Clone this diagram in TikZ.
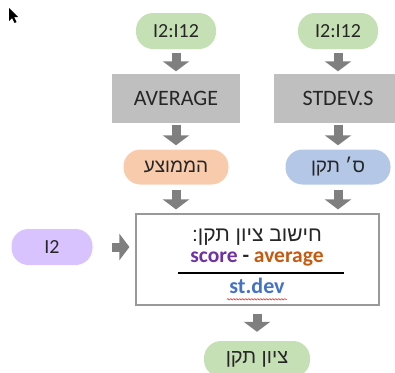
\documentclass[tikz,border=0pt]{standalone}
\usepackage{fontspec}
\setmainfont{Carlito}
\newfontfamily\hebfont[Script=Hebrew]{Liberation Sans}
\TeXXeTstate=1
\usetikzlibrary{arrows.meta,decorations.pathmorphing}
\definecolor{pgreen}{HTML}{C5E0B4}
\definecolor{pgray}{HTML}{BFBFBF}
\definecolor{parrow}{HTML}{7F7F7F}
\definecolor{porange}{HTML}{F8CBAD}
\definecolor{pblue}{HTML}{B4C7E7}
\definecolor{ppurple}{HTML}{D9C3FF}
\definecolor{tpurple}{HTML}{7030A0}
\definecolor{torange}{HTML}{C55A11}
\definecolor{tblue}{HTML}{4472C4}
\definecolor{tdark}{HTML}{262626}
\begin{document}
\begin{tikzpicture}[x=1pt,y=-1pt,
  pill/.style={rectangle,rounded corners=17pt,draw=none,inner sep=0pt,text=tdark,font=\fontsize{20}{22}\selectfont},
  grbox/.style={rectangle,fill=pgray,draw=none,inner sep=0pt,text=tdark,minimum width=128pt,minimum height=49pt,font=\fontsize{22}{24}\selectfont},
  blockarrow/.style={draw=parrow,line width=9pt,-{Triangle[length=10pt,width=26pt]}},
  heb/.style={font=\hebfont\fontsize{19}{22}\selectfont}]
\useasboundingbox (0,0) rectangle (395,372);
\clip (0,0) rectangle (395,372);
% cursor
\fill[black] (9,8) -- (9,21) -- (12,18) -- (14.5,23) -- (16.5,22) -- (14,17) -- (18,17) -- cycle;
% nodes
\node[pill,fill=pgreen,minimum width=80pt,minimum height=36pt] (g1) at (176,31) {I2:I12};
\node[pill,fill=pgreen,minimum width=80pt,minimum height=36pt] (g2) at (338,31) {I2:I12};
\node[grbox] (avg) at (176,98) {AVERAGE};
\node[grbox] (std) at (338,98) {STDEV.S};
\node[pill,fill=porange,minimum width=105pt,minimum height=35pt,heb] (mean) at (176,167) {\beginR הממוצע\endR};
\node[pill,fill=pblue,minimum width=105pt,minimum height=35pt,heb] (sd) at (338,167) {\beginR ס׳ תקן\endR};
\node[rectangle,draw=pgray!80!black,line width=1.2pt,fill=white,minimum width=243pt,minimum height=91pt] (calc) at (257.5,259.5) {};
\node[pill,fill=ppurple,minimum width=81pt,minimum height=36pt] (i2) at (52,247) {I2};
\node[pill,fill=pgreen,minimum width=106pt,minimum height=36pt,heb,font=\hebfont\fontsize{20}{22}\selectfont] (res) at (257,359) {\beginR ציון תקן\endR};
% texts in calc box
\node[text=tdark,font=\hebfont\fontsize{21}{24}\selectfont] (t1) at (257,237) {\beginR חישוב ציון תקן:\endR};
\node[font=\bfseries\fontsize{21.5}{24}\selectfont] (t2) at (257,259) {\textcolor{tpurple}{score} \textcolor{tdark}{-} \textcolor{torange}{average}};
\node[font=\bfseries\fontsize{22}{24}\selectfont,text=tblue] (t3) at (257,286) {st.dev};
\coordinate (fl) at (178,273);
\coordinate (fr) at (344,273);
\draw[black,line width=1.3pt] (fl) -- (fr);
\draw[red,line width=0.5pt,decorate,decoration={snake,amplitude=0.7pt,segment length=3pt}] ([xshift=1pt,yshift=-2pt]t3.south west) -- ([xshift=-1pt,yshift=-2pt]t3.south east);
% arrows
\draw[blockarrow,shorten <=4pt,shorten >=2pt] (g1) -- (avg);
\draw[blockarrow,shorten <=4pt,shorten >=2pt] (g2) -- (std);
\draw[blockarrow,shorten <=2pt,shorten >=4pt] (avg) -- (mean);
\draw[blockarrow,shorten <=2pt,shorten >=4pt] (std) -- (sd);
\draw[blockarrow,shorten <=5pt,shorten >=4pt] (mean) -- (mean|-calc.north);
\draw[blockarrow,shorten <=5pt,shorten >=4pt] (sd) -- (sd|-calc.north);
\draw[blockarrow,shorten <=19pt,shorten >=6pt] (i2) -- (i2-|calc.west);
\draw[blockarrow,shorten <=8pt,shorten >=9pt] (calc.south-|res) -- (res);
\end{tikzpicture}
\end{document}
